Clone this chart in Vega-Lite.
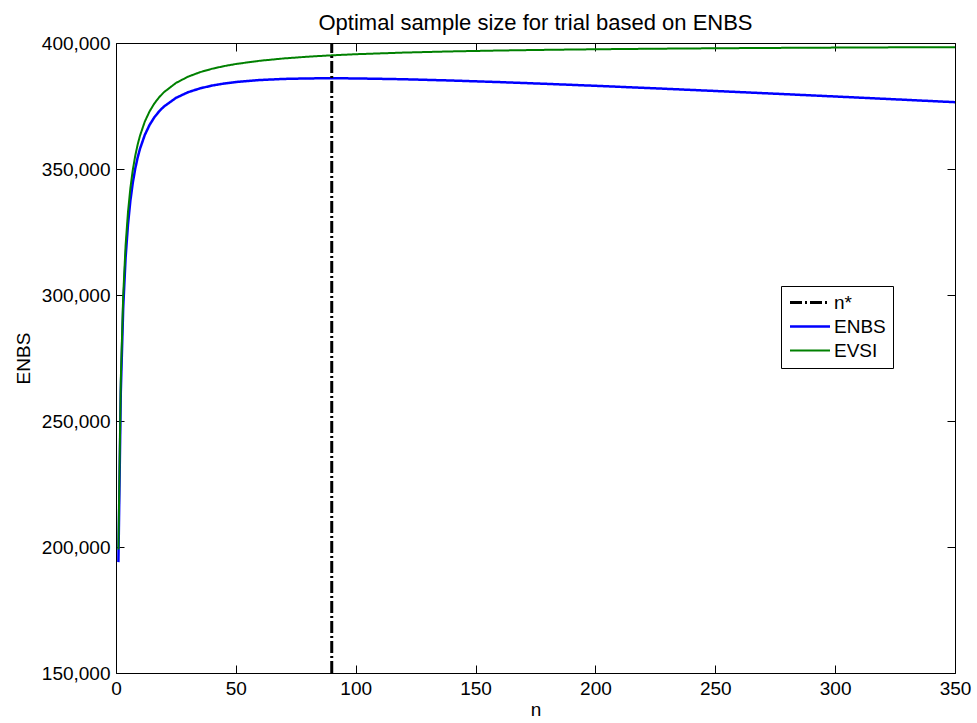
{
  "$schema": "https://vega.github.io/schema/vega-lite/v6.json",
  "width": 839,
  "height": 630,
  "autosize": {"type": "none"},
  "padding": {"left": 116, "top": 43, "right": 22, "bottom": 50},
  "background": "white",
  "title": {"text": "Optimal sample size for trial based on ENBS", "fontSize": 22, "fontWeight": "normal", "font": "Liberation Sans", "color": "black", "anchor": "middle", "baseline": "alphabetic", "offset": -18},
  "config": {
    "font": "Liberation Sans",
    "view": {"stroke": "black", "strokeWidth": 1},
    "axis": {"domain": false, "grid": false, "tickColor": "black", "tickWidth": 1, "labelColor": "black", "labelFontSize": 19, "labelFont": "Liberation Sans", "titleFont": "Liberation Sans", "titleFontSize": 19, "titleFontWeight": "normal", "titleColor": "black", "labelFlush": false},
    "legend": {"labelFontSize": 19, "labelFont": "Liberation Sans", "labelColor": "black"}
  },
  "datasets": {
    "curves": [
      {"n": 1, "value": 194000, "series": "ENBS"},
      {"n": 2, "value": 261535, "series": "ENBS"},
      {"n": 3, "value": 294778, "series": "ENBS"},
      {"n": 4, "value": 314704, "series": "ENBS"},
      {"n": 5, "value": 327972, "series": "ENBS"},
      {"n": 6, "value": 337435, "series": "ENBS"},
      {"n": 7, "value": 344520, "series": "ENBS"},
      {"n": 8, "value": 350019, "series": "ENBS"},
      {"n": 9, "value": 354409, "series": "ENBS"},
      {"n": 10, "value": 357992, "series": "ENBS"},
      {"n": 12, "value": 363481, "series": "ENBS"},
      {"n": 14, "value": 367481, "series": "ENBS"},
      {"n": 16, "value": 370516, "series": "ENBS"},
      {"n": 18, "value": 372892, "series": "ENBS"},
      {"n": 20, "value": 374796, "series": "ENBS"},
      {"n": 25, "value": 378210, "series": "ENBS"},
      {"n": 30, "value": 380443, "series": "ENBS"},
      {"n": 35, "value": 381988, "series": "ENBS"},
      {"n": 40, "value": 383096, "series": "ENBS"},
      {"n": 45, "value": 383910, "series": "ENBS"},
      {"n": 50, "value": 384517, "series": "ENBS"},
      {"n": 60, "value": 385311, "series": "ENBS"},
      {"n": 70, "value": 385743, "series": "ENBS"},
      {"n": 80, "value": 385948, "series": "ENBS"},
      {"n": 90, "value": 386000, "series": "ENBS"},
      {"n": 100, "value": 385945, "series": "ENBS"},
      {"n": 120, "value": 385618, "series": "ENBS"},
      {"n": 140, "value": 385107, "series": "ENBS"},
      {"n": 160, "value": 384479, "series": "ENBS"},
      {"n": 180, "value": 383773, "series": "ENBS"},
      {"n": 200, "value": 383012, "series": "ENBS"},
      {"n": 225, "value": 382007, "series": "ENBS"},
      {"n": 250, "value": 380958, "series": "ENBS"},
      {"n": 275, "value": 379878, "series": "ENBS"},
      {"n": 300, "value": 378773, "series": "ENBS"},
      {"n": 325, "value": 377650, "series": "ENBS"},
      {"n": 350, "value": 376512, "series": "ENBS"},
      {"n": 1, "value": 199000, "series": "EVSI"},
      {"n": 2, "value": 266333, "series": "EVSI"},
      {"n": 3, "value": 299625, "series": "EVSI"},
      {"n": 4, "value": 319600, "series": "EVSI"},
      {"n": 5, "value": 332917, "series": "EVSI"},
      {"n": 6, "value": 342429, "series": "EVSI"},
      {"n": 7, "value": 349563, "series": "EVSI"},
      {"n": 8, "value": 355111, "series": "EVSI"},
      {"n": 9, "value": 359550, "series": "EVSI"},
      {"n": 10, "value": 363182, "series": "EVSI"},
      {"n": 12, "value": 368769, "series": "EVSI"},
      {"n": 14, "value": 372867, "series": "EVSI"},
      {"n": 16, "value": 376000, "series": "EVSI"},
      {"n": 18, "value": 378474, "series": "EVSI"},
      {"n": 20, "value": 380476, "series": "EVSI"},
      {"n": 25, "value": 384135, "series": "EVSI"},
      {"n": 30, "value": 386613, "series": "EVSI"},
      {"n": 35, "value": 388403, "series": "EVSI"},
      {"n": 40, "value": 389756, "series": "EVSI"},
      {"n": 45, "value": 390815, "series": "EVSI"},
      {"n": 50, "value": 391667, "series": "EVSI"},
      {"n": 60, "value": 392951, "series": "EVSI"},
      {"n": 70, "value": 393873, "series": "EVSI"},
      {"n": 80, "value": 394568, "series": "EVSI"},
      {"n": 90, "value": 395110, "series": "EVSI"},
      {"n": 100, "value": 395545, "series": "EVSI"},
      {"n": 120, "value": 396198, "series": "EVSI"},
      {"n": 140, "value": 396667, "series": "EVSI"},
      {"n": 160, "value": 397019, "series": "EVSI"},
      {"n": 180, "value": 397293, "series": "EVSI"},
      {"n": 200, "value": 397512, "series": "EVSI"},
      {"n": 225, "value": 397732, "series": "EVSI"},
      {"n": 250, "value": 397908, "series": "EVSI"},
      {"n": 275, "value": 398053, "series": "EVSI"},
      {"n": 300, "value": 398173, "series": "EVSI"},
      {"n": 325, "value": 398275, "series": "EVSI"},
      {"n": 350, "value": 398362, "series": "EVSI"},
      {"n": 90, "value": 150000, "series": "n*"},
      {"n": 90, "value": 400000, "series": "n*"}
    ]
  },
  "data": {"name": "curves"},
  "layer": [
    {
      "mark": {"type": "line", "clip": true},
      "encoding": {
        "x": {"field": "n", "type": "quantitative", "scale": {"domain": [0, 350], "nice": false, "zero": false},
              "axis": {"orient": "bottom", "values": [0, 50, 100, 150, 200, 250, 300, 350], "tickSize": -8, "labelPadding": 14, "title": "n", "titlePadding": 2}},
        "y": {"field": "value", "type": "quantitative", "scale": {"domain": [150000, 400000], "nice": false, "zero": false},
              "axis": {"orient": "left", "values": [150000, 200000, 250000, 300000, 350000, 400000], "format": ",d", "tickSize": -8, "labelPadding": 14, "title": "ENBS", "titlePadding": 8}},
        "color": {"field": "series", "type": "nominal",
                  "scale": {"domain": ["n*", "ENBS", "EVSI"], "range": ["#000000", "#0000ff", "#008000"]},
                  "legend": {"title": null, "orient": "none", "legendX": 665, "legendY": 243, "direction": "vertical",
                             "strokeColor": "black", "fillColor": "white", "padding": 7, "cornerRadius": 0,
                             "symbolType": "M-3,0H13", "symbolSize": 25, "symbolStrokeWidth": 2, "labelOffset": 27, "rowPadding": 4}},
        "strokeDash": {"field": "series", "type": "nominal",
                       "scale": {"domain": ["n*", "ENBS", "EVSI"], "range": [[12, 3, 2, 3], [1, 0], [1, 0]]},
                       "legend": {"title": null, "orient": "none", "legendX": 665, "legendY": 243, "direction": "vertical",
                             "strokeColor": "black", "fillColor": "white", "padding": 7, "cornerRadius": 0,
                             "symbolType": "M-3,0H13", "symbolSize": 25, "symbolStrokeWidth": 2, "labelOffset": 27, "rowPadding": 4}},
        "strokeWidth": {"field": "series", "type": "nominal",
                        "scale": {"domain": ["n*", "ENBS", "EVSI"], "range": [3, 2, 2]}, "legend": null}
      }
    },
    {
      "mark": {"type": "point", "opacity": 0},
      "encoding": {
        "x": {"field": "n", "type": "quantitative",
              "axis": {"orient": "top", "values": [0, 50, 100, 150, 200, 250, 300, 350], "tickSize": -8, "labels": false, "title": null}},
        "y": {"field": "value", "type": "quantitative",
              "axis": {"orient": "right", "values": [150000, 200000, 250000, 300000, 350000, 400000], "tickSize": -8, "labels": false, "title": null}}
      }
    }
  ],
  "resolve": {"axis": {"x": "independent", "y": "independent"}}
}
